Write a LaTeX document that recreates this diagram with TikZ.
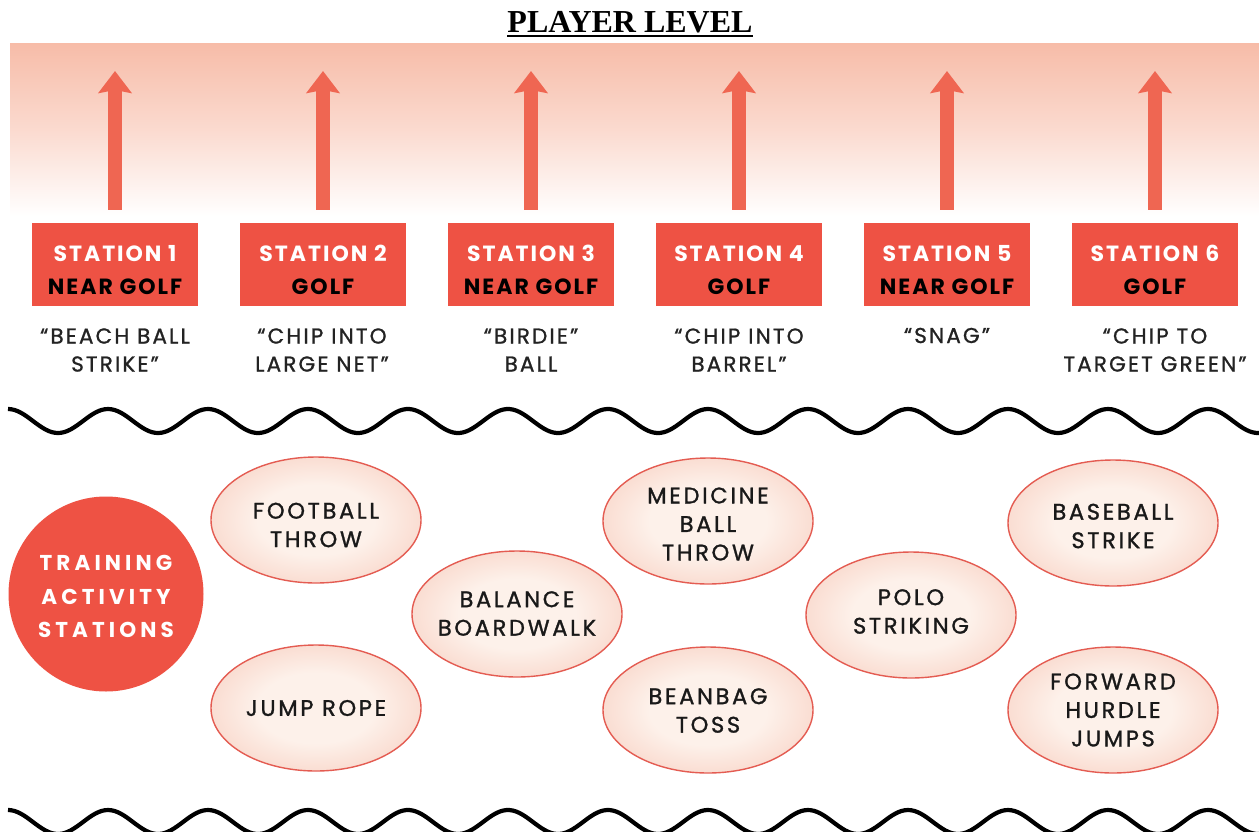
\documentclass[tikz,border=0pt]{standalone}
\usepackage{fontspec}
\setmainfont{Liberation Serif}
\newfontfamily\boxfont{Poppins}[LetterSpace=9]
\newfontfamily\lblfont{Poppins}[LetterSpace=10, FakeBold=1.0]
\newfontfamily\ellfont{Poppins}[LetterSpace=12, FakeBold=1.2]
\newfontfamily\hubfont{Poppins}[LetterSpace=19]
\usetikzlibrary{arrows.meta,shapes.geometric}
\definecolor{boxred}{RGB}{238,82,68}
\definecolor{arrred}{RGB}{239,102,82}
\definecolor{bandtop}{RGB}{247,188,168}
\definecolor{ellc}{RGB}{253,241,234}
\definecolor{elle}{RGB}{243,176,156}
\definecolor{ellb}{RGB}{228,92,82}
\definecolor{txt}{RGB}{25,25,25}
\definecolor{lbl}{RGB}{35,35,35}
\newcommand\bxstrut{\rule{0pt}{28pt}}
\newcommand\hbstrut{\rule{0pt}{21pt}}
\pgfdeclareradialshading{ellshade}{\pgfpoint{0bp}{0bp}}{color(0bp)=(ellc); color(14bp)=(ellc); color(50bp)=(elle)}
\tikzset{
  stationbox/.style={rectangle, fill=boxred, minimum width=166pt, minimum height=83pt, inner sep=0pt, align=center, text=black, font=\boxfont\bfseries\fontsize{22}{33}\selectfont},
  lbltext/.style={align=center, text=lbl, inner sep=0pt, font=\lblfont\fontsize{21.5}{28}\selectfont},
  uparrow/.style={draw=arrred, line width=14pt, -{Stealth[width=33pt,length=22pt,inset=3pt]}, shorten <=13pt},
  activity/.style={ellipse, draw=ellb, line width=1.4pt, shade, shading=ellshade, minimum width=210pt, minimum height=126pt, inner sep=0pt},
  acttext/.style={align=center, text=txt, inner sep=0pt, font=\ellfont\fontsize{22.5}{28.5}\selectfont},
  hub/.style={circle, fill=boxred, minimum size=195pt, inner sep=0pt, align=center, text=white, font=\hubfont\bfseries\fontsize{21.5}{33.5}\selectfont},
  wave/.style={draw=black, line width=4.2pt}
}
\begin{document}
\begin{tikzpicture}[x=1pt,y=-1pt]
\useasboundingbox (0,0) rectangle (1259,831);
\fill[white] (0,0) rectangle (1259,831);
% gradient band
\shade[top color=bandtop, bottom color=white, middle color=bandtop!55!white] (10,43) rectangle (1259,216);
% title
\node[inner sep=0pt, anchor=base, font=\bfseries\fontsize{32}{36}\selectfont] (title) at (630,32) {PLAYER LEVEL};
\draw[line width=2.6pt] ([yshift=-4pt]title.base west) -- ([yshift=-4pt]title.base east);
% stations
\node[stationbox] (s1) at (115,264.5) {\bxstrut\textcolor{white}{STATION 1}\\NEAR GOLF};
\node[stationbox] (s2) at (323,264.5) {\bxstrut\textcolor{white}{STATION 2}\\GOLF};
\node[stationbox] (s3) at (531,264.5) {\bxstrut\textcolor{white}{STATION 3}\\NEAR GOLF};
\node[stationbox] (s4) at (739,264.5) {\bxstrut\textcolor{white}{STATION 4}\\GOLF};
\node[stationbox] (s5) at (947,264.5) {\bxstrut\textcolor{white}{STATION 5}\\NEAR GOLF};
\node[stationbox] (s6) at (1155,264.5) {\bxstrut\textcolor{white}{STATION 6}\\GOLF};
% arrow tips
\coordinate (t1) at (115,71);
\coordinate (t2) at (323,71);
\coordinate (t3) at (531,71);
\coordinate (t4) at (739,71);
\coordinate (t5) at (947,71);
\coordinate (t6) at (1155,71);
\foreach \i in {1,...,6} {\draw[uparrow] (s\i.north) -- (t\i);}
% labels
\node[lbltext] (l1) at (115,350) {“BEACH BALL\\STRIKE”};
\node[lbltext] (l2) at (322,350) {“CHIP INTO\\LARGE NET”};
\node[lbltext] (l3) at (531,350) {“BIRDIE”\\BALL};
\node[lbltext] (l4) at (739,350) {“CHIP INTO\\BARREL”};
\node[lbltext, anchor=base] (l5) at (947,343) {“SNAG”};
\node[lbltext] (l6) at (1155,350) {“CHIP TO\\TARGET GREEN”};
% waves
\draw[wave] plot[domain=8:1259, samples=400, smooth] (\x, {421-12*cos(3.6*(\x-8))});
\draw[wave] plot[domain=8:1259, samples=400, smooth] (\x, {822-12*cos(3.6*(\x-8))});
% hub
\node[hub] (hub) at (106,594) {\hbstrut TRAINING\\ACTIVITY\\STATIONS};
% activities
\node[activity] (a1) at (316,520) {};
\node[activity] (a2) at (316,708) {};
\node[activity] (a3) at (517,614) {};
\node[activity] (a4) at (708,521) {};
\node[activity] (a5) at (708,710) {};
\node[activity] (a6) at (911,615) {};
\node[activity] (a7) at (1113,523) {};
\node[activity] (a8) at (1113,710) {};
\node[acttext] (a1t) at (316,525) {FOOTBALL\\THROW};
\node[acttext] (a2t) at (316,708) {JUMP ROPE};
\node[acttext] (a3t) at (517,613.5) {BALANCE\\BOARDWALK};
\node[acttext] (a4t) at (708,524) {MEDICINE\\BALL\\THROW};
\node[acttext] (a5t) at (708,710.5) {BEANBAG\\TOSS};
\node[acttext] (a6t) at (911,611.5) {POLO\\STRIKING};
\node[acttext] (a7t) at (1113,526) {BASEBALL\\STRIKE};
\node[acttext] (a8t) at (1113,710) {FORWARD\\HURDLE\\JUMPS};
\end{tikzpicture}
\end{document}
